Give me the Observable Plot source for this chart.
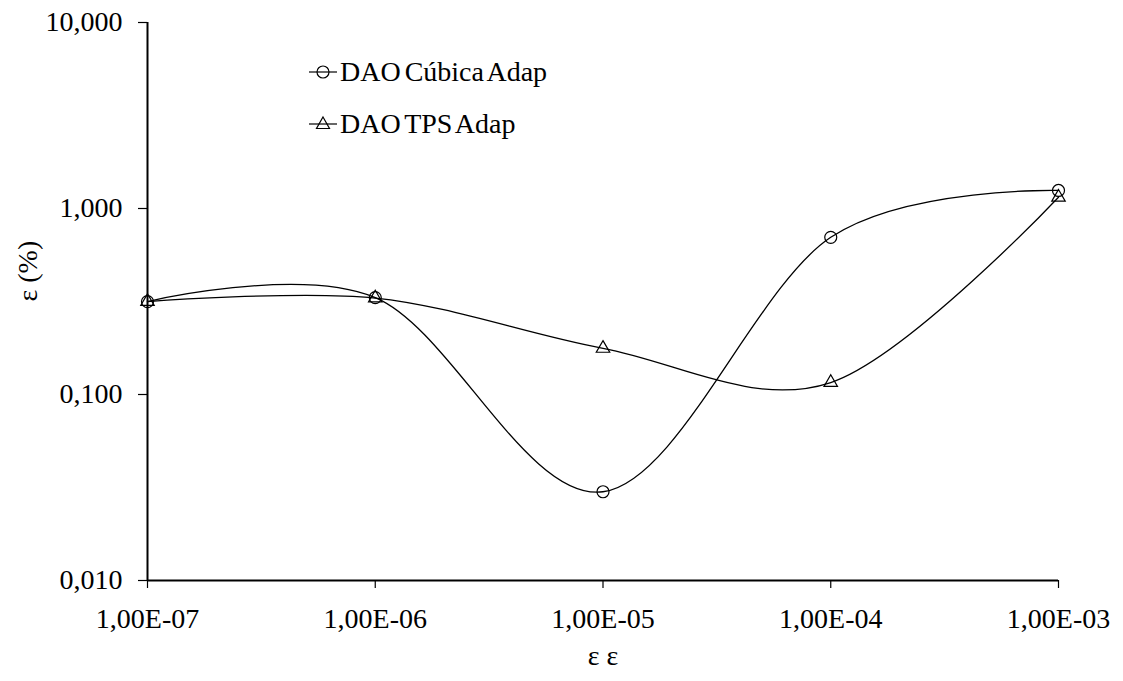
<!DOCTYPE html>
<html>
<head>
<meta charset="utf-8">
<script src="https://cdn.jsdelivr.net/npm/d3@7"></script>
<script src="https://cdn.jsdelivr.net/npm/@observablehq/plot@0.6"></script>
<style>
  html, body { margin: 0; padding: 0; background: #fff; }
  #wrap { position: relative; width: 1123px; height: 681px; font-family: "Liberation Serif", "Times New Roman", Tinos, Times, "DejaVu Serif", serif; }
  #chart svg, #chart svg text { font-family: "Liberation Serif", "Times New Roman", Tinos, Times, "DejaVu Serif", serif !important; }
  #legend { position: absolute; left: 308px; top: 46px; font-size: 28px; color: #000; line-height: 52px; }
  #legend .row { display: flex; align-items: center; white-space: nowrap; word-spacing: -3px; }
  #legend svg { margin-right: 2px; }
</style>
</head>
<body>
<div id="wrap">
  <div id="chart"></div>
  <div id="legend"></div>
</div>
<script>
const xValues = [1e-7, 1e-6, 1e-5, 1e-4, 1e-3];
const xTickLabels = ["1,00E-07", "1,00E-06", "1,00E-05", "1,00E-04", "1,00E-03"];
const yTicks = [0.01, 0.1, 1, 10];
const yTickLabels = ["0,010", "0,100", "1,000", "10,000"];
const seriesNames = ["DAO Cúbica Adap", "DAO TPS Adap"];
const cubica = [0.316, 0.332, 0.030, 0.70, 1.25];
const tps = [0.316, 0.330, 0.177, 0.116, 1.15];

const rows = [
  ...xValues.map((x, i) => ({x, y: cubica[i], s: seriesNames[0]})),
  ...xValues.map((x, i) => ({x, y: tps[i], s: seriesNames[1]}))
];
const cub = rows.filter(d => d.s === seriesNames[0]);
const tp = rows.filter(d => d.s === seriesNames[1]);

const chart = Plot.plot({
  width: 1123,
  height: 681,
  marginLeft: 147,
  marginRight: 65,
  marginTop: 22,
  marginBottom: 101,
  style: {fontFamily: "'Liberation Serif', 'Times New Roman', serif", fontSize: "28px", color: "#000", background: "#fff"},
  x: {type: "log", domain: [1e-7, 1e-3]},
  y: {type: "log", domain: [0.01, 10]},
  marks: [
    Plot.axisY({ticks: yTicks, tickFormat: d => yTickLabels[yTicks.indexOf(d)], tickSize: 9, tickPadding: 16, label: null, strokeWidth: 1.2}),
    Plot.axisX({ticks: xValues, tickFormat: d => xTickLabels[xValues.indexOf(d)], tickSize: 8, tickPadding: 20, label: null, strokeWidth: 1.2}),
    Plot.ruleX([1e-7], {stroke: "#000", strokeWidth: 2}),
    Plot.ruleY([0.01], {stroke: "#000", strokeWidth: 2}),
    Plot.line(cub, {x: "x", y: "y", curve: "cardinal", tension: 0, stroke: "#000", strokeWidth: 1.3}),
    Plot.line(tp, {x: "x", y: "y", curve: "cardinal", tension: 0, stroke: "#000", strokeWidth: 1.3}),
    Plot.dot(cub, {x: "x", y: "y", symbol: "circle", r: 6, fill: "none", stroke: "#000", strokeWidth: 1.2}),
    Plot.dot(tp, {x: "x", y: "y", symbol: "triangle", r: 5, fill: "none", stroke: "#000", strokeWidth: 1.2}),
    Plot.text(["ε (%)"], {frameAnchor: "left", dx: -119, rotate: -90, fontSize: 28}),
    Plot.text(["ε ε"], {frameAnchor: "bottom", dy: 84, fontSize: 28})
  ]
});
document.getElementById("chart").appendChild(chart);

const legend = document.getElementById("legend");
const symbols = [
  '<svg width="30" height="20"><line x1="1" y1="10" x2="29" y2="10" stroke="#000" stroke-width="1.2"/><circle cx="15" cy="10" r="6" fill="none" stroke="#000" stroke-width="1.2"/></svg>',
  '<svg width="30" height="20"><line x1="1" y1="10" x2="29" y2="10" stroke="#000" stroke-width="1.2"/><path d="M15,3 L21.5,14.5 L8.5,14.5 Z" fill="none" stroke="#000" stroke-width="1.2"/></svg>'
];
seriesNames.forEach((n, i) => {
  const r = document.createElement("div");
  r.className = "row";
  r.innerHTML = symbols[i] + '<span>' + n + '</span>';
  legend.appendChild(r);
});
</script>
</body>
</html>
